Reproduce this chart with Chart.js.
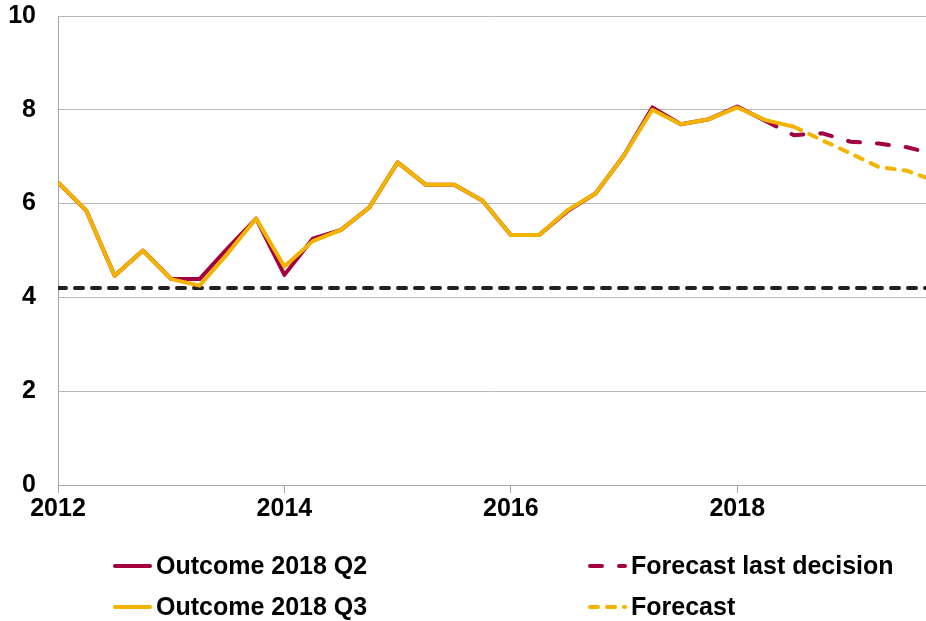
<!DOCTYPE html>
<html>
<head>
<meta charset="utf-8">
<script src="https://cdn.jsdelivr.net/npm/chart.js@4/dist/chart.umd.min.js"></script>
<style>
    html, body { margin: 0; padding: 0; background: #fff; }
    #wrap { width: 926px; height: 621px; position: relative; }
</style>
</head>
<body>
<div id="wrap"><canvas id="chart"></canvas></div>
<script>
// Quarters on the x axis (2012 Q1 .. 2019 Q4)
const quarters = [
    '2012Q1', '2012Q2', '2012Q3', '2012Q4', '2013Q1', '2013Q2', '2013Q3', '2013Q4',
    '2014Q1', '2014Q2', '2014Q3', '2014Q4', '2015Q1', '2015Q2', '2015Q3', '2015Q4',
    '2016Q1', '2016Q2', '2016Q3', '2016Q4', '2017Q1', '2017Q2', '2017Q3', '2017Q4',
    '2018Q1', '2018Q2', '2018Q3', '2018Q4', '2019Q1', '2019Q2', '2019Q3', '2019Q4',
];
const yearTicks = [2012, 2014, 2016, 2018];

// Outcome 2018 Q2, from 2012Q1
const outcomeQ2 = [6.45, 5.85, 4.46, 5.0, 4.39, 4.39, 5.05, 5.68, 4.48, 5.25, 5.44, 5.92, 6.88,
    6.40, 6.40, 6.06, 5.33, 5.33, 5.84, 6.22, 7.03, 8.05, 7.69, 7.80, 8.07, 7.76];
// Outcome 2018 Q3, from 2012Q1
const outcomeQ3 = [6.45, 5.85, 4.46, 5.0, 4.39, 4.25, 4.94, 5.68, 4.66, 5.2, 5.44, 5.92, 6.88,
    6.40, 6.40, 6.06, 5.33, 5.33, 5.86, 6.22, 7.03, 8.0, 7.69, 7.80, 8.05, 7.78, 7.64];
// Forecast last decision, from 2018Q2
const forecastLast = [7.76, 7.46, 7.50, 7.32, 7.28, 7.20, 7.05];
// Forecast, from 2018Q3
const forecastNew = [7.64, 7.35, 7.07, 6.78, 6.70, 6.48];
// Dashed black reference level
const referenceLevel = 4.2;

const RED = '#A4003F';
const YELLOW = '#F2B400';
const FONT = '"Liberation Sans", Arial, sans-serif';

// '2015Q3' -> 2015.5
function quarterToYear(label) {
    const year = parseInt(label.slice(0, 4));
    const q = parseInt(label.slice(5));
    return year + (q - 1) / 4;
}

// turn a series starting at a given quarter into {x, y} points
function toPoints(values, startLabel) {
    const start = quarters.indexOf(startLabel);
    return values.map((v, i) => ({ x: quarterToYear(quarters[start + i]), y: v }));
}

const datasets = [
    {
        label: 'Outcome 2018 Q3', data: toPoints(outcomeQ3, '2012Q1'),
        borderColor: YELLOW, borderWidth: 4, order: 1, borderJoinStyle: 'round',
    },
    {
        label: 'Forecast', data: toPoints(forecastNew, '2018Q3'),
        borderColor: YELLOW, borderWidth: 4, borderDash: [8, 9], borderCapStyle: 'round', order: 2,
    },
    {
        label: 'Outcome 2018 Q2', data: toPoints(outcomeQ2, '2012Q1'),
        borderColor: RED, borderWidth: 4, order: 3, borderJoinStyle: 'round',
    },
    {
        label: 'Forecast last decision', data: toPoints(forecastLast, '2018Q2'),
        borderColor: RED, borderWidth: 4, borderDash: [12, 17], borderCapStyle: 'round', order: 4,
    },
    {
        label: 'Reference', data: [
            { x: quarterToYear(quarters[0]), y: referenceLevel },
            { x: quarterToYear(quarters[quarters.length - 1]), y: referenceLevel },
        ],
        borderColor: '#231F20', borderWidth: 4, borderDash: [8, 9], borderCapStyle: 'round', order: 5,
    },
];

// legend in two columns, drawn under the plot
const legendItems = [
    { label: 'Outcome 2018 Q2', x: 115, y: 566 },
    { label: 'Outcome 2018 Q3', x: 115, y: 607 },
    { label: 'Forecast last decision', x: 590, y: 566 },
    { label: 'Forecast', x: 590, y: 607 },
];

const twoColumnLegend = {
    id: 'twoColumnLegend',
    afterDraw(chart) {
        const ctx = chart.ctx;
        ctx.save();
        legendItems.forEach((item) => {
            const ds = chart.data.datasets.find((d) => d.label === item.label);
            ctx.beginPath();
            ctx.strokeStyle = ds.borderColor;
            ctx.lineWidth = 4;
            ctx.lineCap = 'round';
            ctx.setLineDash(ds.borderDash || []);
            ctx.moveTo(item.x, item.y);
            ctx.lineTo(item.x + 35, item.y);
            ctx.stroke();
            ctx.setLineDash([]);
            ctx.fillStyle = '#000';
            ctx.font = 'bold 25px ' + FONT;
            ctx.textBaseline = 'middle';
            ctx.textAlign = 'left';
            ctx.fillText(item.label, item.x + 41, item.y + 1);
        });
        ctx.restore();
    },
};

new Chart(document.getElementById('chart').getContext('2d'), {
    type: 'line',
    data: { datasets: datasets },
    options: {
        responsive: true,
        maintainAspectRatio: false,
        animation: false,
        layout: { padding: { top: 16, right: 0, bottom: 96, left: 0 } },
        elements: { point: { radius: 0 }, line: { tension: 0 } },
        scales: {
            x: {
                type: 'linear',
                min: 2012,
                max: 2019.667,
                afterBuildTicks: (scale) => { scale.ticks = yearTicks.map((v) => ({ value: v })); },
                afterFit: (scale) => {
                    scale.height = 40;
                    scale.paddingLeft = 0;
                    scale.paddingRight = 0;
                },
                grid: { drawOnChartArea: false, drawTicks: true, tickLength: 8, color: '#A6A6A6' },
                border: { color: '#A6A6A6' },
                ticks: {
                    autoSkip: false, maxRotation: 0, padding: 1, color: '#000',
                    font: { family: FONT, size: 25, weight: 'bold' },
                    callback: (v) => String(v),
                },
            },
            y: {
                min: 0,
                max: 10,
                afterFit: (scale) => {
                    scale.width = 58;
                    scale.paddingTop = 0;
                    scale.paddingBottom = 0;
                },
                grid: { drawTicks: false, color: '#B8B8B8' },
                border: { color: '#A6A6A6' },
                ticks: {
                    stepSize: 2, padding: 22, color: '#000',
                    font: { family: FONT, size: 25, weight: 'bold' },
                },
            },
        },
        plugins: {
            legend: { display: false },
            tooltip: { enabled: false },
        },
    },
    plugins: [twoColumnLegend],
});
</script>
</body>
</html>
